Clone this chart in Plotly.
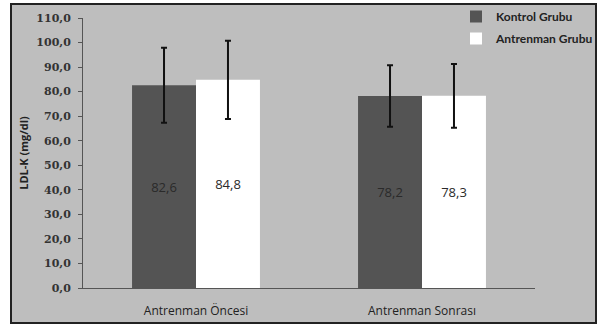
import plotly.graph_objects as go

categories = ["Antrenman Öncesi", "Antrenman Sonrası"]
kontrol = [82.6, 78.2]
kontrol_err = [15.3, 12.5]
antrenman = [84.8, 78.3]
antrenman_err = [15.9, 13.0]
series_names = ["Kontrol Grubu", "Antrenman Grubu"]
y_ticks = [0, 10, 20, 30, 40, 50, 60, 70, 80, 90, 100, 110]

BG = "#BEBEBE"
DARK = "#545454"

fig = go.Figure()
for name, vals, errs, color in [
    (series_names[0], kontrol, kontrol_err, DARK),
    (series_names[1], antrenman, antrenman_err, "#FFFFFF"),
]:
    fig.add_trace(go.Bar(
        name=name, x=categories, y=vals,
        marker=dict(color=color, line=dict(width=0)),
        error_y=dict(type="data", array=errs, visible=True, color="#111111", thickness=2, width=3),
        texttemplate="%{y:.1f}", textposition="inside", insidetextanchor="middle",
        textfont=dict(family="Open Sans", size=13, color="#2a2a2a"),
        textangle=0, legendgroup=name,
    ))

L, R, T, B = 83, 65, 18, 41
W, H = 600, 329
pw, ph = W - L - R, H - T - B

def px_x(p):
    return (p - L) / pw

def px_y(p):
    return (H - B - p) / ph

border = dict(x0=px_x(11), x1=px_x(596), y0=px_y(323), y1=px_y(4))

fig.update_layout(
    width=W, height=H,
    margin=dict(l=L, r=R, t=T, b=B, autoexpand=False),
    paper_bgcolor="white", plot_bgcolor=BG,
    separators=",.",
    barmode="group", bargap=0.434, bargroupgap=0,
    showlegend=True,
    legend=dict(x=px_x(456), y=px_y(2), xanchor="left", yanchor="top",
                bgcolor="rgba(0,0,0,0)",
                font=dict(family="Lato", size=12, color="#222222", weight="bold"),
                tracegroupgap=3, itemwidth=30),
    font=dict(family="Open Sans", color="#222222"),
    xaxis=dict(showline=True, linecolor="#555555", linewidth=1, ticks="",
               tickfont=dict(family="Open Sans", size=12, color="#222222"),
               ticklabelstandoff=12, showgrid=False, zeroline=False),
    yaxis=dict(range=[0, 110], tickvals=y_ticks, tickformat=".1f",
               showline=True, linecolor="#555555", linewidth=1,
               ticks="outside", ticklen=4, tickcolor="#555555",
               ticklabelstandoff=5,
               tickfont=dict(family="DejaVu Serif", size=11, color="#333333", weight="bold"),
               showgrid=False, zeroline=False,
               title=dict(text="<b>LDL-K (mg/dl)</b>", font=dict(family="Open Sans", size=11, color="#222222"),
                          standoff=5)),
    shapes=[
        dict(type="rect", xref="paper", yref="paper", **border,
             line=dict(width=0), fillcolor=BG, layer="below"),
        dict(type="rect", xref="paper", yref="paper", **border,
             line=dict(color="#222222", width=2), fillcolor="rgba(0,0,0,0)", layer="above"),
    ],
)

fig.write_html("out.html", config={"displayModeBar": False},
               post_script="document.body.style.margin='0';document.body.style.padding='0';")
